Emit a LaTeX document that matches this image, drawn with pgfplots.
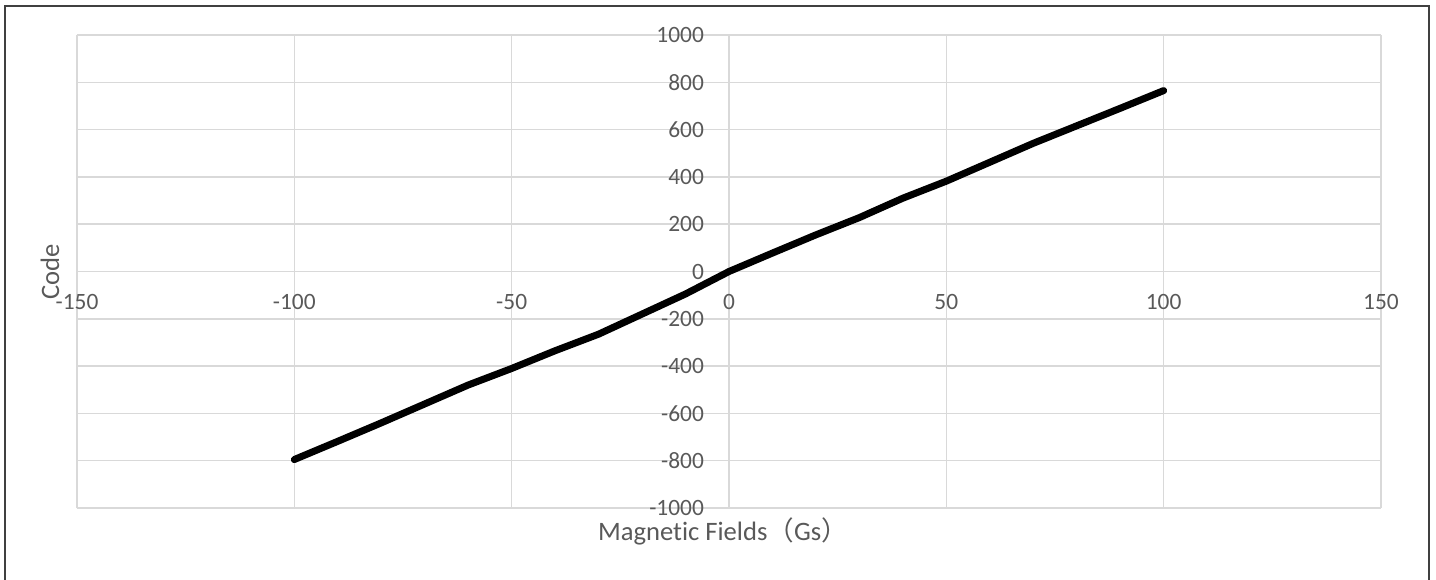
\documentclass[border=0pt]{standalone}
\usepackage{pgfplots}
\pgfplotsset{compat=1.18}
\usepackage{fontspec}
\setmainfont[Ligatures=NoCommon]{Carlito}
\newfontfamily\cjk{Noto Sans CJK SC}

\definecolor{gridgray}{HTML}{D9D9D9}
\definecolor{txtgray}{HTML}{595959}
\definecolor{framegray}{HTML}{404040}

\begin{document}
\begin{tikzpicture}
\useasboundingbox (-38.5pt,-35.5pt) rectangle (679.5pt,254pt);
\begin{axis}[
    at={(0,0)}, anchor=south west,
    scale only axis,
    width=652pt, height=236.5pt,
    xmin=-150, xmax=150, ymin=-1000, ymax=1000,
    axis x line=middle, axis y line=middle,
    axis line style={draw=gridgray, line width=0.75pt, -},
    xtick={-150,-100,...,150},
    ytick={-1000,-800,...,1000},
    hide obscured x ticks=false, hide obscured y ticks=false,
    major tick length=0pt,
    grid=major,
    major grid style={draw=gridgray, line width=0.75pt},
    tick label style={font=\fontsize{11.7}{12}\selectfont, text=txtgray},
    /pgf/number format/assume math mode=true,
    /pgf/number format/1000 sep={},
    xticklabel style={anchor=north, yshift=-8pt},
    yticklabel style={anchor=east, xshift=-9pt},
    every axis x label/.style={at={(rel axis cs:0.5,0)}, anchor=center,
        yshift=-11.5pt, xshift=-3pt, font=\fontsize{13.3}{14}\selectfont, text=txtgray},
    every axis y label/.style={at={(rel axis cs:0,0.5)}, anchor=center, rotate=90,
        yshift=13.5pt, font=\fontsize{13.3}{14}\selectfont, text=txtgray},
    xlabel={Magnetic Fields{\cjk （}Gs{\cjk ）}},
    ylabel={Code},
    clip=false,
]
\addplot[black, line width=3.5pt, line join=round, line cap=round] coordinates {
    (-100,-795) (-90,-718) (-80,-640) (-70,-560) (-60,-480)
    (-50,-410) (-40,-335) (-30,-265) (-20,-180) (-10,-95)
    (0,0) (10,78) (20,155) (30,228) (40,310)
    (50,382) (60,462) (70,542) (80,616) (90,690) (100,765)
};
\end{axis}
\draw[framegray, line width=1pt] (-35.85pt,-36pt) -- (-35.85pt,251pt) -- (676pt,251pt) -- (676pt,-36pt);
\end{tikzpicture}
\end{document}
